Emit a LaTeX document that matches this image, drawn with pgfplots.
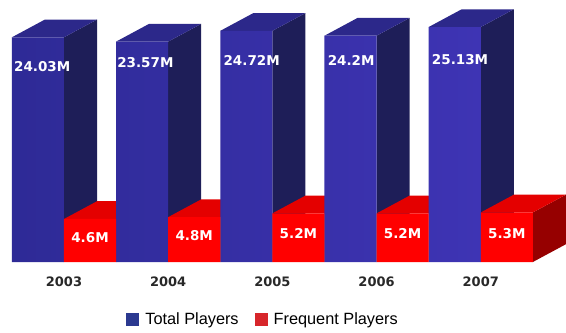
\documentclass[border=0pt]{standalone}
\usepackage{pgfplots}
\pgfplotsset{compat=1.18}
\usepackage{fontspec}
\setmainfont{Liberation Sans}
\newfontfamily\dvs{DejaVu Sans}

\definecolor{bfrontL}{RGB}{46,42,150}
\definecolor{bfrontR}{RGB}{62,52,180}
\definecolor{bside}{RGB}{30,30,88}
\definecolor{btop}{RGB}{44,40,138}
\definecolor{rfront}{RGB}{255,0,0}
\definecolor{rtop}{RGB}{228,0,0}
\definecolor{rsideL}{RGB}{170,0,0}
\definecolor{rside}{RGB}{150,0,0}
\definecolor{legblue}{RGB}{43,57,144}
\definecolor{legred}{RGB}{215,38,43}
\definecolor{yeartext}{RGB}{40,40,40}

\def\dx{0.317}
\def\dy{1.9}

% side and top faces of a 3D bar whose front face starts at x=#1 and has height #2
\newcommand{\sidetop}[4]{%
  \pgfmathsetmacro{\xa}{#1}%
  \pgfmathsetmacro{\xb}{#1+0.5}%
  \pgfmathsetmacro{\xc}{#1+0.5+\dx}%
  \pgfmathsetmacro{\xd}{#1+\dx}%
  \pgfmathsetmacro{\yt}{#2+\dy}%
  \edef\tmp{%
    \noexpand\addplot[fill=#3,draw=none,forget plot] coordinates {(\xb,0) (\xc,\dy) (\xc,\yt) (\xb,#2)} --cycle;
    \noexpand\addplot[fill=#4,draw=none,forget plot] coordinates {(\xa,#2) (\xb,#2) (\xc,\yt) (\xd,\yt)} --cycle;
  }\tmp
}

\begin{document}
\begin{tikzpicture}
\begin{axis}[
  scale only axis,
  width=566pt, height=262pt,
  xmin=-0.614, xmax=4.818,
  ymin=0, ymax=28.02,
  clip=false,
  axis line style={draw=none},
  major tick length=0pt,
  ytick=\empty,
  xtick={0,1,2,3,4},
  xticklabels={2003,2004,2005,2006,2007},
  xticklabel style={anchor=center, yshift=-20pt, font=\dvs\bfseries\fontsize{13}{15}\selectfont, text=yeartext},
  legend columns=2,
  legend style={
    at={(0.463,-0.2195)}, anchor=center,
    draw=none, fill=none,
    font=\fontsize{16.3}{19}\selectfont,
    nodes={inner sep=0pt},
    /tikz/every even column/.append style={column sep=16pt},
  },
  legend image code/.code={\fill[#1] (0pt,-6.5pt) rectangle (13pt,6.5pt); \path (19pt,0pt);},
]
% blue side + top faces
\sidetop{-0.5}{24.03}{bside}{btop}
\sidetop{0.5}{23.57}{bside}{btop}
\sidetop{1.5}{24.72}{bside}{btop}
\sidetop{2.5}{24.2}{bside}{btop}
\sidetop{3.5}{25.13}{bside}{btop}
% red side + top faces
\sidetop{0}{4.6}{rside}{rtop}
\sidetop{1}{4.8}{rside}{rtop}
\sidetop{2}{5.2}{rside}{rtop}
\sidetop{3}{5.2}{rside}{rtop}
\sidetop{4}{5.3}{rside}{rtop}
% front faces
\addplot[ybar, bar width=0.5, bar shift=-0.25, draw=none, left color=bfrontL, right color=bfrontR, forget plot]
  coordinates {(0,24.03) (1,23.57) (2,24.72) (3,24.2) (4,25.13)};
\addplot[ybar, bar width=0.5, bar shift=0.25, draw=none, fill=rfront, forget plot]
  coordinates {(0,4.6) (1,4.8) (2,5.2) (3,5.2) (4,5.3)};

\addlegendimage{fill=legblue, draw=none}
\addlegendentry{Total Players}
\addlegendimage{fill=legred, draw=none}
\addlegendentry{Frequent Players}

% value labels
\begin{scope}[every node/.style={text=white, font=\dvs\bfseries\fontsize{13.5}{15}\selectfont, inner sep=0pt}]
\node[anchor=west] at (axis cs:-0.48,20.86) {24.03M};
\node[anchor=west] at (axis cs:0.51,21.28) {23.57M};
\node[anchor=west] at (axis cs:1.53,21.5) {24.72M};
\node[anchor=west] at (axis cs:2.53,21.5) {24.2M};
\node[anchor=west] at (axis cs:3.53,21.6) {25.13M};
\node at (axis cs:0.25,2.57) {4.6M};
\node at (axis cs:1.25,2.78) {4.8M};
\node at (axis cs:2.25,3.0) {5.2M};
\node at (axis cs:3.25,3.0) {5.2M};
\node at (axis cs:4.25,3.0) {5.3M};
\end{scope}

\coordinate (BL) at (axis cs:-0.614,-7.487);
\coordinate (TR) at (axis cs:4.818,28.02);
\end{axis}
\pgfresetboundingbox
\useasboundingbox (BL) rectangle (TR);
\end{tikzpicture}
\end{document}
